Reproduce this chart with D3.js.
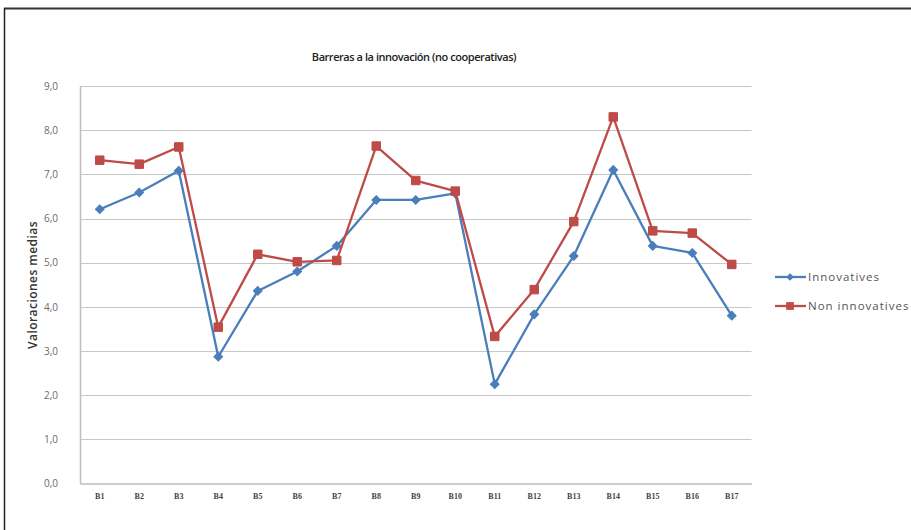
<!DOCTYPE html>
<html><head><meta charset="utf-8">
<script src="https://cdn.jsdelivr.net/npm/d3@7"></script>
<style>html,body{margin:0;padding:0;background:#fff;}svg{display:block;}</style>
</head><body>
<svg id="c" width="911" height="530"></svg>
<script>
const categories = ["B1","B2","B3","B4","B5","B6","B7","B8","B9","B10","B11","B12","B13","B14","B15","B16","B17"];
const innovatives = [6.21,6.59,7.08,2.87,4.36,4.80,5.38,6.42,6.42,6.57,2.25,3.83,5.15,7.10,5.38,5.22,3.80];
const nonInnovatives = [7.32,7.23,7.62,3.54,5.19,5.02,5.05,7.64,6.86,6.62,3.33,4.39,5.93,8.30,5.72,5.67,4.96];
const yTicks = [0,1,2,3,4,5,6,7,8,9];
const seriesNames = ["Innovatives","Non innovatives"];
const colors = ["#4A7EBB","#BE4B48"];

const svg = d3.select("#c");
// frame
svg.append("line").attr("x1",4).attr("x2",911).attr("y1",8.5).attr("y2",8.5).attr("stroke","#333").attr("stroke-width",2);
svg.append("line").attr("x1",4.5).attr("x2",4.5).attr("y1",8).attr("y2",530).attr("stroke","#222").attr("stroke-width",1.5);

const pLeft = 80, pRight = 751.5, pTop = 86, pBottom = 483.5;
const x = d3.scaleBand().domain(categories).range([pLeft,pRight]);
const y = d3.scaleLinear().domain([0,9]).range([pBottom,pTop]);

// gridlines
svg.append("g").selectAll("line").data(yTicks.filter(d=>d>0)).join("line")
  .attr("x1",pLeft).attr("x2",pRight).attr("y1",d=>Math.round(y(d))+0.5).attr("y2",d=>Math.round(y(d))+0.5)
  .attr("stroke","#C8C8C8").attr("stroke-width",1.2);

// axes
const yAxis = d3.axisLeft(y).tickValues(yTicks).tickSize(0).tickPadding(22)
  .tickFormat(d=>d3.format(".1f")(d).replace(".",","));
const gy = svg.append("g").attr("transform",`translate(${pLeft},0)`).call(yAxis);
gy.select(".domain").attr("stroke","#BDBDBD").attr("stroke-width",1.5);
gy.selectAll("text").attr("font-family","Open Sans, sans-serif").attr("font-size",10).attr("fill","#6a6a6a");

const xAxis = d3.axisBottom(x).tickSize(0).tickPadding(10);
const gx = svg.append("g").attr("transform",`translate(0,${pBottom})`).call(xAxis);
gx.select(".domain").attr("stroke","#BDBDBD").attr("stroke-width",1.5);
gx.selectAll("text").attr("font-family","Liberation Serif, serif").attr("font-weight","bold").attr("font-size",8).attr("fill","#444");

// title
svg.append("text").attr("x",414).attr("y",61).attr("text-anchor","middle")
  .attr("font-family","Open Sans, sans-serif").attr("font-weight","600").attr("font-size",11).attr("letter-spacing",-0.45).attr("fill","#222")
  .text("Barreras a la innovación (no cooperativas)");
// y title
svg.append("text").attr("transform","translate(37,285) rotate(-90)").attr("text-anchor","middle")
  .attr("font-family","Open Sans, sans-serif").attr("font-weight","600").attr("font-size",12).attr("letter-spacing",0.45).attr("fill","#333")
  .text("Valoraciones medias");

const data = [innovatives, nonInnovatives];
const line = d3.line().x((d,i)=>x(categories[i])+x.bandwidth()/2).y(d=>y(d));
data.forEach((vals,si)=>{
  svg.append("path").datum(vals).attr("d",line).attr("fill","none").attr("stroke",colors[si]).attr("stroke-width",2.3).attr("stroke-linejoin","round");
  const sym = d3.symbolSquare;
  const size = si===0 ? 38 : 72;
  const rot = si===0 ? 45 : 0;
  svg.append("g").selectAll("path").data(vals).join("path")
    .attr("transform",(d,i)=>`translate(${x(categories[i])+x.bandwidth()/2},${y(d)}) rotate(${rot})`)
    .attr("d",d3.symbol(sym,size)).attr("fill",colors[si]).attr("stroke",colors[si]).attr("stroke-width",1);
});

// legend
const lg = svg.append("g");
seriesNames.forEach((name,i)=>{
  const ly = 277 + i*29;
  lg.append("line").attr("x1",775).attr("x2",806).attr("y1",ly).attr("y2",ly).attr("stroke",colors[i]).attr("stroke-width",2.3);
  lg.append("path").attr("transform",`translate(790,${ly}) rotate(${i===0?45:0})`).attr("d",d3.symbol(d3.symbolSquare, i===0?30:60)).attr("fill",colors[i]);
  lg.append("text").attr("x",808).attr("y",ly+4).attr("font-family","Open Sans, sans-serif").attr("font-size",11.5).attr("letter-spacing",1).attr("fill","#555").text(name);
});
</script>
</body></html>
